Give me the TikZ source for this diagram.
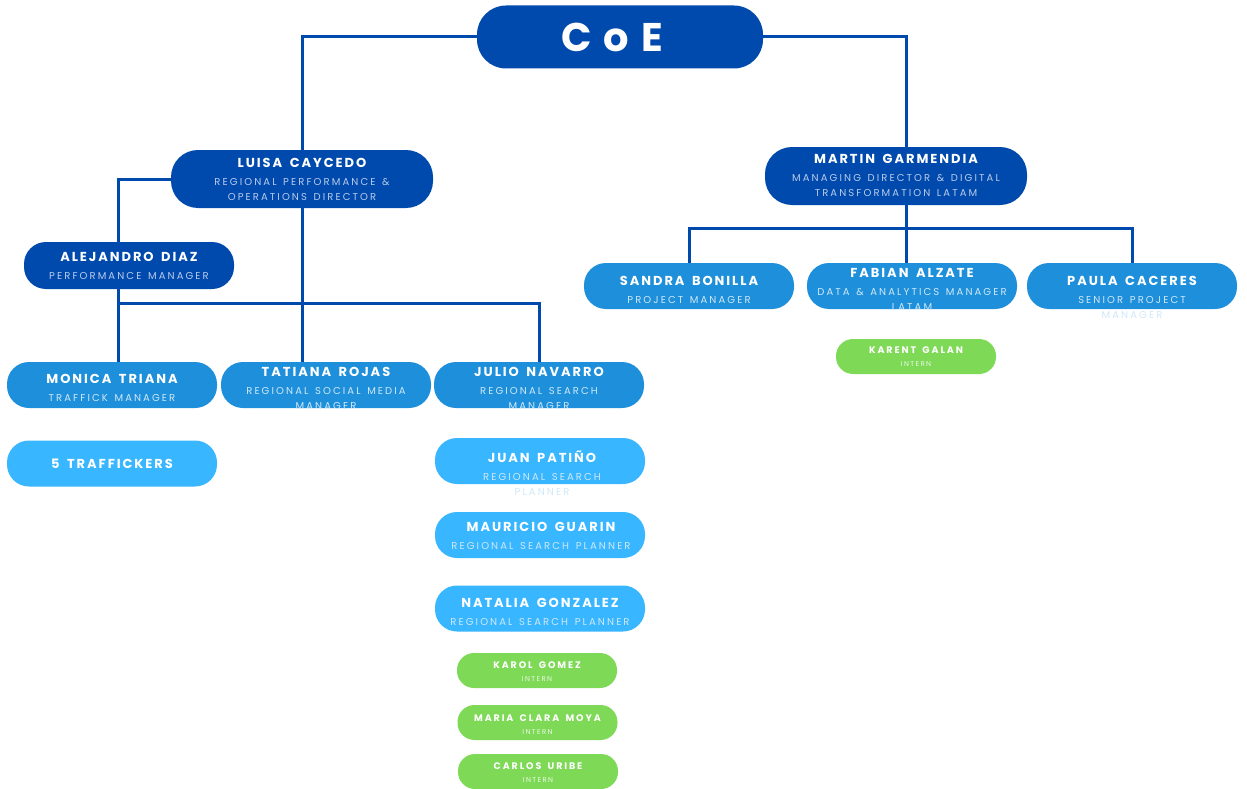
\documentclass[tikz,border=0pt]{standalone}
\usepackage{fontspec}
\setmainfont{Poppins}
\newfontfamily\namefont[LetterSpace=15,WordSpace=1.6]{Poppins}
\newfontfamily\subfont[LetterSpace=21,WordSpace=1.4]{Poppins}
\newfontfamily\internfont[LetterSpace=20,WordSpace=1.6]{Poppins}
\newfontfamily\coefont[LetterSpace=30]{Poppins}
\usepackage{tikz}
\definecolor{coeblue}{HTML}{004AAD}
\definecolor{midblue}{HTML}{1E8FDA}
\definecolor{skyblue}{HTML}{38B6FF}
\definecolor{interngreen}{HTML}{7ED957}
\definecolor{subdark}{HTML}{B9CBEA}
\definecolor{sublight}{HTML}{CFE8F8}
\newcommand\who[2]{{\color{white}\namefont\bfseries\fontsize{13}{15}\selectfont #1}\\[3pt]#2}
\newcommand\intern[2]{{\color{white}\internfont\bfseries\fontsize{9.5}{10}\selectfont #1}\\[3pt]#2}

\begin{document}
\begin{tikzpicture}[x=1pt, y=-1pt,
  box/.style={rectangle, inner sep=0pt, minimum width=210pt, minimum height=46pt, rounded corners=22pt},
  headbox/.style={box, fill=coeblue, minimum width=262pt, minimum height=58pt, rounded corners=27pt},
  leadbox/.style={box, fill=coeblue, minimum height=47pt},
  teambox/.style={box, fill=midblue},
  staffbox/.style={box, fill=skyblue},
  internbox/.style={box, fill=interngreen, minimum width=160pt, minimum height=35pt, rounded corners=17pt},
  who/.style={anchor=north, inner sep=0pt, align=center, text=white, font={\subfont\fontsize{10}{15}\selectfont}},
  whodark/.style={who, text=subdark},
  wholight/.style={who, text=sublight},
  whointern/.style={who, text=white!85!interngreen, font={\internfont\fontsize{7}{10}\selectfont}},
  link/.style={draw=coeblue, line width=3pt}]
  \useasboundingbox (0,0) rectangle (1247,789);
  % top
  \node[box, fill=coeblue, minimum width=286pt, minimum height=63pt, rounded corners=29pt] (coe) at (620,37) {};
  \node[text=white, font={\coefont\bfseries\fontsize{40}{40}\selectfont}] (coe-txt) at (612,37) {CoE};
  % directors
  \node[headbox] (luisa) at (302,179) {};
  \node[whodark] (luisa-txt) at (302,158.5) {\who{LUISA CAYCEDO}{REGIONAL PERFORMANCE \&\\OPERATIONS DIRECTOR}};
  \node[headbox] (martin) at (896,176) {};
  \node[whodark] (martin-txt) at (896,154.5) {\who{MARTIN GARMENDIA}{MANAGING DIRECTOR \& DIGITAL\\TRANSFORMATION LATAM}};
  % managers
  \node[leadbox] (alejandro) at (129,265.5) {};
  \node[whodark] (alejandro-txt) at (129,252.5) {\who{ALEJANDRO DIAZ}{PERFORMANCE MANAGER}};
  \node[teambox] (sandra) at (689,286) {};
  \node[wholight] (sandra-txt) at (689,276.5) {\who{SANDRA BONILLA}{PROJECT MANAGER}};
  \node[teambox] (fabian) at (912,286) {};
  \node[wholight] (fabian-txt) at (912,268.5) {\who{FABIAN ALZATE}{DATA \& ANALYTICS MANAGER\\LATAM}};
  \node[teambox] (paula) at (1132,286) {};
  \node[wholight] (paula-txt) at (1132,276.5) {\who{PAULA CACERES}{SENIOR PROJECT\\MANAGER}};
  \node[internbox] (karent) at (916,356.5) {};
  \node[whointern] (karent-txt) at (916,346.5) {\intern{KARENT GALAN}{INTERN}};
  % regional team
  \node[teambox] (monica) at (112,385) {};
  \node[wholight] (monica-txt) at (112,374.5) {\who{MONICA TRIANA}{TRAFFICK MANAGER}};
  \node[teambox] (tatiana) at (326,385) {};
  \node[wholight] (tatiana-txt) at (326,367.5) {\who{TATIANA ROJAS}{REGIONAL SOCIAL MEDIA\\MANAGER}};
  \node[teambox] (julio) at (539,385) {};
  \node[wholight] (julio-txt) at (539,367.5) {\who{JULIO NAVARRO}{REGIONAL SEARCH\\MANAGER}};
  % traffickers and search team
  \node[staffbox, text=white, font={\namefont\bfseries\fontsize{13}{15}\selectfont}] (traffickers) at (112,463.5) {5 TRAFFICKERS};
  \node[staffbox] (juan) at (540,461) {};
  \node[wholight] (juan-txt) at (542,450.5) {\who{JUAN PATIÑO}{REGIONAL SEARCH\\PLANNER}};
  \node[staffbox] (mauricio) at (540,535) {};
  \node[wholight] (mauricio-txt) at (541,522.5) {\who{MAURICIO GUARIN}{REGIONAL SEARCH PLANNER}};
  \node[staffbox] (natalia) at (540,608.5) {};
  \node[wholight] (natalia-txt) at (540,598.5) {\who{NATALIA GONZALEZ}{REGIONAL SEARCH PLANNER}};
  % interns
  \node[internbox] (karol) at (537,670.5) {};
  \node[whointern] (karol-txt) at (537,662) {\intern{KAROL GOMEZ}{INTERN}};
  \node[internbox] (maria) at (537.5,722.5) {};
  \node[whointern] (maria-txt) at (537.5,715) {\intern{MARIA CLARA MOYA}{INTERN}};
  \node[internbox] (carlos) at (538,771.5) {};
  \node[whointern] (carlos-txt) at (538,763) {\intern{CARLOS URIBE}{INTERN}};
  % branch points
  \coordinate (lbranch) at (118,303);
  \coordinate (rbranch) at (906,228);
  % links
  \draw[link] (coe.west) -| (luisa.north);
  \draw[link] (coe.east) -| (rbranch |- martin.north);
  \draw[link] (luisa.west) -| (lbranch |- alejandro.north);
  \draw[link] (lbranch |- alejandro.south) -- (lbranch |- monica.north);
  \draw[link] (lbranch) -| (julio.north);
  \draw[link] (luisa.south) -- (luisa.south |- tatiana.north);
  \draw[link] (rbranch |- martin.south) -- (rbranch |- fabian.north);
  \draw[link] (sandra.north) |- (rbranch) -| (paula.north);
\end{tikzpicture}
\end{document}
